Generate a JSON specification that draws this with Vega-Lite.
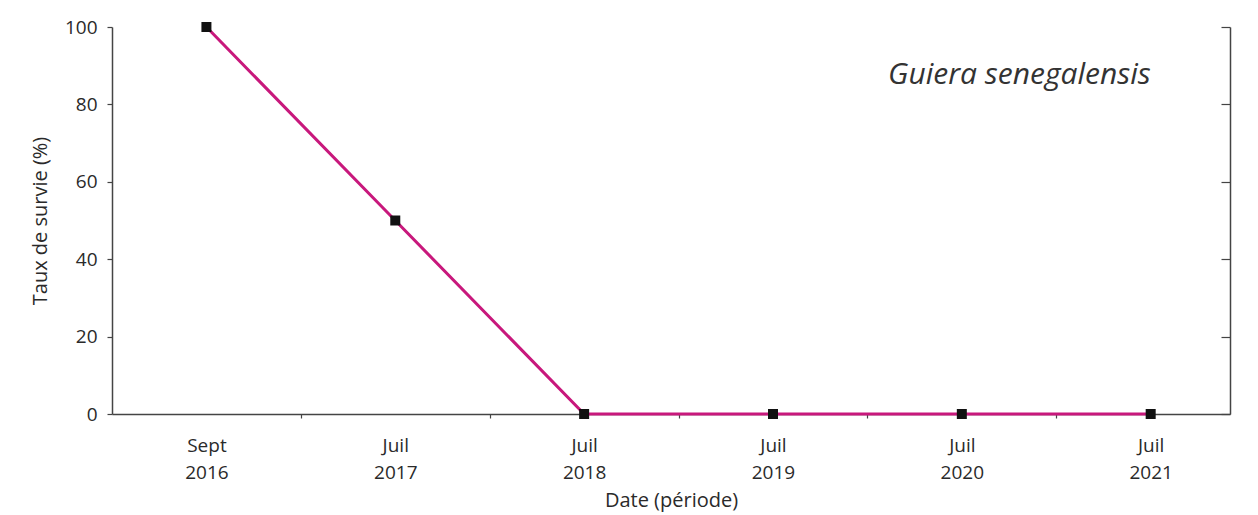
{
  "$schema": "https://vega.github.io/schema/vega-lite/v6.json",
  "width": 1118,
  "height": 387,
  "autosize": "none",
  "padding": {"left": 112, "top": 27, "right": 28, "bottom": 101},
  "background": "white",
  "config": {
    "view": {"stroke": null},
    "axis": {
      "labelFont": "Open Sans",
      "titleFont": "Open Sans",
      "labelFontSize": 19,
      "titleFontSize": 20,
      "labelColor": "#2a2a2a",
      "titleColor": "#2a2a2a",
      "titleFontWeight": "normal",
      "domainColor": "#444444",
      "tickColor": "#444444",
      "domainWidth": 1.5,
      "tickWidth": 1.2,
      "grid": false
    }
  },
  "data": {
    "values": [
      {"idx": 0, "periode": "Sept 2016", "taux": 100},
      {"idx": 1, "periode": "Juil 2017", "taux": 50},
      {"idx": 2, "periode": "Juil 2018", "taux": 0},
      {"idx": 3, "periode": "Juil 2019", "taux": 0},
      {"idx": 4, "periode": "Juil 2020", "taux": 0},
      {"idx": 5, "periode": "Juil 2021", "taux": 0}
    ]
  },
  "resolve": {"axis": {"x": "independent", "y": "independent"}},
  "layer": [
    {
      "mark": {"type": "line", "color": "#c8187c", "strokeWidth": 3},
      "encoding": {
        "x": {
          "field": "idx", "type": "quantitative",
          "scale": {"domain": [-0.5, 5.42], "nice": false, "zero": false},
          "axis": {
            "title": "Date (période)",
            "values": [0, 1, 2, 3, 4, 5],
            "ticks": false,
            "labelExpr": "datum.value == 0 ? ['Sept', '2016'] : ['Juil', '' + (2016 + datum.value)]",
            "labelLineHeight": 27,
            "labelPadding": 22,
            "titlePadding": 8,
            "labelFlush": false
          }
        },
        "y": {
          "field": "taux", "type": "quantitative",
          "scale": {"domain": [0, 100], "nice": false},
          "axis": {
            "title": "Taux de survie (%)",
            "values": [0, 20, 40, 60, 80, 100],
            "tickSize": 5,
            "labelPadding": 10,
            "titlePadding": 14
          }
        }
      }
    },
    {
      "mark": {"type": "square", "color": "#111111", "opacity": 1, "size": 100},
      "encoding": {
        "x": {"field": "idx", "type": "quantitative", "axis": null},
        "y": {"field": "taux", "type": "quantitative", "axis": null}
      }
    },
    {
      "mark": {"type": "point", "opacity": 0},
      "encoding": {
        "x": {
          "field": "idx", "type": "quantitative",
          "axis": {
            "orient": "bottom",
            "title": null,
            "labels": false,
            "domain": false,
            "values": [0.5, 1.5, 2.5, 3.5, 4.5],
            "tickSize": 4
          }
        },
        "y": {
          "field": "taux", "type": "quantitative",
          "axis": {
            "orient": "right",
            "title": null,
            "labels": false,
            "values": [0, 20, 40, 60, 80, 100],
            "tickSize": -9
          }
        }
      }
    },
    {
      "data": {"values": [{"idx": 5, "taux": 87.5, "label": "Guiera senegalensis"}]},
      "mark": {"type": "text", "font": "Open Sans", "fontStyle": "italic", "fontSize": 30, "color": "#333333", "align": "right", "baseline": "middle"},
      "encoding": {
        "x": {"field": "idx", "type": "quantitative", "axis": null},
        "y": {"field": "taux", "type": "quantitative", "axis": null},
        "text": {"field": "label"}
      }
    }
  ]
}
